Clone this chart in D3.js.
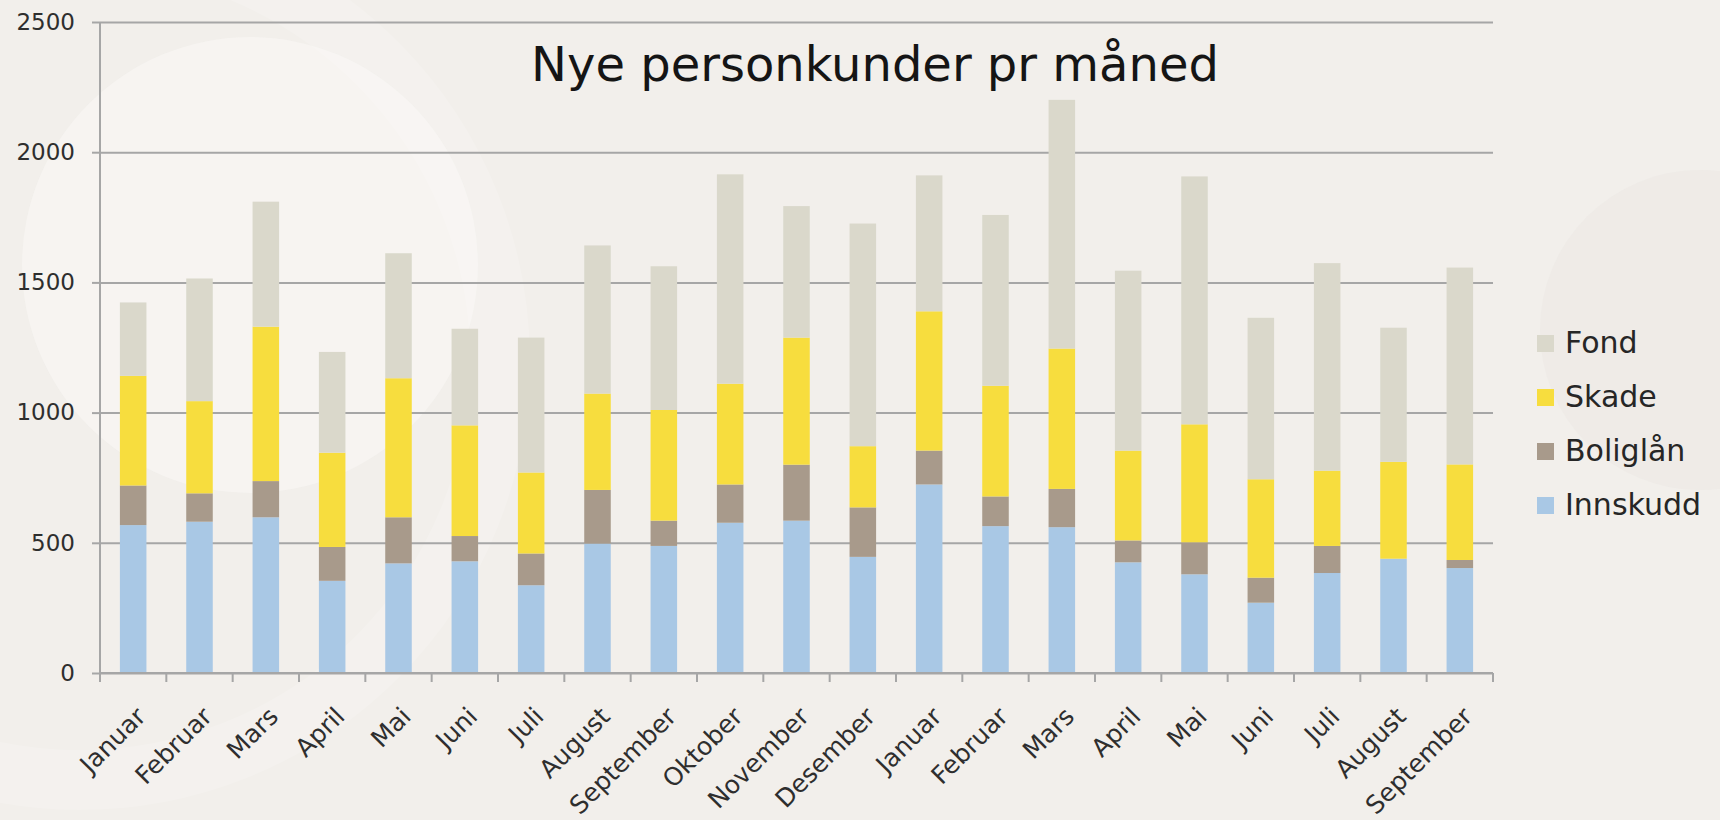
<!DOCTYPE html>
<html>
<head>
<meta charset="utf-8">
<script src="https://cdn.jsdelivr.net/npm/d3@7"></script>
<style>
body { margin: 0; background: #f2efeb; }
svg { display: block; }
</style>
</head>
<body>
<div id="chart"></div>
<script>
// data (values per segment, stacked bottom to top)
var months = ["Januar", "Februar", "Mars", "April", "Mai", "Juni", "Juli", "August", "September", "Oktober", "November", "Desember",
              "Januar", "Februar", "Mars", "April", "Mai", "Juni", "Juli", "August", "September"];
var innskudd = [568, 581, 598, 354, 421, 429, 337, 497, 488, 577, 585, 446, 724, 564, 560, 425, 379, 270, 384, 439, 403];
var boliglan = [152, 109, 139, 130, 177, 97, 122, 206, 97, 147, 215, 190, 130, 114, 147, 84, 123, 96, 104, 0, 31];
var skade    = [421, 354, 593, 362, 534, 425, 311, 370, 425, 387, 488, 235, 535, 425, 539, 345, 453, 378, 289, 372, 367];
var fond     = [282, 471, 480, 387, 480, 371, 518, 569, 552, 804, 505, 855, 522, 656, 955, 691, 952, 620, 797, 515, 756];
var seriesNames = ["Innskudd", "Boliglån", "Skade", "Fond"];
var seriesColours = ["#a9c8e5", "#a89a8b", "#f7dd3e", "#dad8cb"];
var yTicks = [0, 500, 1000, 1500, 2000, 2500];

var svgWidth = 1720, svgHeight = 820;
var plotLeft = 100, plotRight = 1493, plotTop = 22, plotBottom = 673;
var fontFam = "'DejaVu Sans', Verdana, sans-serif";

var rows = months.map(function (m, i) {
	return { i: i, Innskudd: innskudd[i], "Boliglån": boliglan[i], Skade: skade[i], Fond: fond[i] };
});

var svg = d3.select("#chart").append("svg").attr("width", svgWidth).attr("height", svgHeight);

// soft background circles
svg.append("rect").attr("width", svgWidth).attr("height", svgHeight).attr("fill", "#f2efeb");
svg.append("circle").attr("cx", 250).attr("cy", 265).attr("r", 228).attr("fill", "#fbfaf7").attr("opacity", 0.5);
svg.append("circle").attr("cx", 80).attr("cy", 360).attr("r", 420).attr("fill", "none")
	.attr("stroke", "#ffffff").attr("stroke-width", 60).attr("opacity", 0.15);
svg.append("circle").attr("cx", 1700).attr("cy", 330).attr("r", 160).attr("fill", "#ebe8e3").attr("opacity", 0.5);

var x = d3.scaleBand().domain(d3.range(months.length)).range([plotLeft, plotRight]).paddingInner(0.6).paddingOuter(0.3);
var y = d3.scaleLinear().domain([0, 2500]).range([plotBottom, plotTop]);

// gridlines
svg.append("g")
	.attr("transform", "translate(" + plotLeft + ",0)")
	.call(d3.axisLeft(y).tickValues(yTicks).tickSize(-(plotRight - plotLeft)).tickFormat(""))
	.call(function (g) { g.select(".domain").remove(); })
	.selectAll("line").attr("stroke", "#a6a6a6").attr("stroke-width", 2);

// y axis
var yAxis = svg.append("g")
	.attr("transform", "translate(" + plotLeft + ",0)")
	.call(d3.axisLeft(y).tickValues(yTicks).tickFormat(d3.format("d")).tickSize(8).tickPadding(17));
yAxis.select(".domain").remove();
yAxis.selectAll("line").attr("stroke", "#a6a6a6").attr("stroke-width", 2);
yAxis.selectAll("text").attr("font-family", fontFam).attr("font-size", 23).attr("fill", "#2e2e2e");
svg.append("line")
	.attr("x1", plotLeft).attr("x2", plotLeft).attr("y1", y(2500)).attr("y2", y(0) + 9)
	.attr("stroke", "#a6a6a6").attr("stroke-width", 2);

// stacked bars
var stack = d3.stack().keys(seriesNames)(rows);
svg.append("g").selectAll("g").data(stack).enter().append("g")
	.attr("fill", function (d, k) { return seriesColours[k]; })
	.selectAll("rect").data(function (d) { return d; }).enter().append("rect")
	.attr("x", function (d) { return x(d.data.i); })
	.attr("y", function (d) { return y(d[1]); })
	.attr("width", x.bandwidth())
	.attr("height", function (d) { return y(d[0]) - y(d[1]); });

// x axis line and ticks between categories
svg.append("line")
	.attr("x1", plotLeft).attr("x2", plotRight).attr("y1", y(0)).attr("y2", y(0))
	.attr("stroke", "#a6a6a6").attr("stroke-width", 2);
var bounds = d3.range(months.length + 1).map(function (k) { return x.range()[0] + k * x.step(); });
svg.append("g").selectAll("line").data(bounds).enter().append("line")
	.attr("x1", function (d) { return d; }).attr("x2", function (d) { return d; })
	.attr("y1", y(0)).attr("y2", y(0) + 9)
	.attr("stroke", "#a6a6a6").attr("stroke-width", 2);

// rotated month labels
svg.append("g").selectAll("text").data(months).enter().append("text")
	.attr("transform", function (d, i) {
		return "translate(" + (x(i) + x.bandwidth() / 2 + 14) + "," + (y(0) + 45) + ") rotate(-45)";
	})
	.attr("text-anchor", "end")
	.attr("font-family", fontFam)
	.attr("font-size", 25)
	.attr("fill", "#2e2e2e")
	.text(function (d) { return d; });

// title
svg.append("text")
	.attr("x", 875).attr("y", 81)
	.attr("text-anchor", "middle")
	.attr("font-family", fontFam)
	.attr("font-size", 48)
	.attr("fill", "#151515")
	.text("Nye personkunder pr måned");

// legend (reverse order, Fond on top)
var legendItems = seriesNames.slice().reverse();
var legend = svg.append("g").selectAll("g").data(legendItems).enter().append("g")
	.attr("transform", function (d, k) { return "translate(1537," + (343 + k * 54) + ")"; });
legend.append("rect")
	.attr("x", 0).attr("y", -8).attr("width", 17).attr("height", 17)
	.attr("fill", function (d) { return seriesColours[seriesNames.indexOf(d)]; });
legend.append("text")
	.attr("x", 28).attr("dy", "0.33em")
	.attr("font-family", fontFam)
	.attr("font-size", 30)
	.attr("fill", "#262626")
	.text(function (d) { return d; });
</script>
</body>
</html>
